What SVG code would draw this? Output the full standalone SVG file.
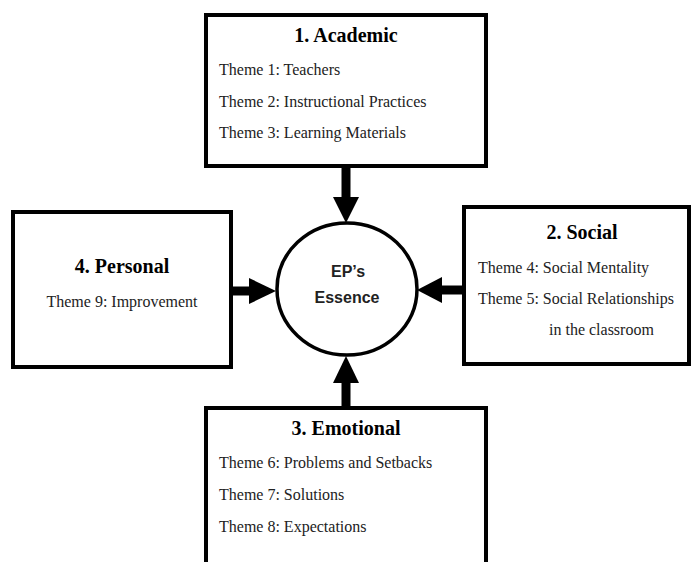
<svg xmlns="http://www.w3.org/2000/svg" width="693" height="562" viewBox="0 0 693 562">
<style>
.box{fill:#fff;stroke:#000;stroke-width:4}
.title{font-family:"Liberation Serif","Times New Roman",serif;font-weight:bold;font-size:20px;fill:#000;text-anchor:middle}
.item{font-family:"Liberation Serif","Times New Roman",serif;font-size:16px;fill:#222}
.core{font-family:"Liberation Sans",Arial,sans-serif;font-weight:bold;font-size:16px;fill:#222;text-anchor:middle}
.shaft{stroke:#000;stroke-width:9;fill:none}
.head{fill:#000}
</style>
<rect width="693" height="562" fill="#fff"/>
<g id="connectors">
  <line class="shaft" x1="346" y1="166" x2="346" y2="199"/>
  <polygon class="head" points="333,197 359,197 346,223"/>
  <line class="shaft" x1="231" y1="291" x2="251" y2="291"/>
  <polygon class="head" points="249,278 249,304 276,291"/>
  <line class="shaft" x1="464" y1="290" x2="440" y2="290"/>
  <polygon class="head" points="442,277 442,303 417,290"/>
  <line class="shaft" x1="346" y1="408" x2="346" y2="381"/>
  <polygon class="head" points="333,383 359,383 346,356"/>
</g>
<g id="academic">
  <rect class="box" x="206" y="15" width="280" height="151"/>
  <text class="title" x="346" y="42">1. Academic</text>
  <text class="item" x="219" y="75">Theme 1: Teachers</text>
  <text class="item" x="219" y="107">Theme 2: Instructional Practices</text>
  <text class="item" x="219" y="138">Theme 3: Learning Materials</text>
</g>
<g id="personal">
  <rect class="box" x="13" y="212" width="218" height="155"/>
  <text class="title" x="122" y="273">4. Personal</text>
  <text class="item" x="122" y="307" text-anchor="middle">Theme 9: Improvement</text>
</g>
<g id="social">
  <rect class="box" x="464" y="207" width="225" height="157"/>
  <text class="title" x="582" y="239">2. Social</text>
  <text class="item" x="478" y="273">Theme 4: Social Mentality</text>
  <text class="item" x="478" y="304">Theme 5: Social Relationships</text>
  <text class="item" x="549" y="335">in the classroom</text>
</g>
<g id="emotional">
  <rect class="box" x="206" y="408" width="280" height="170"/>
  <text class="title" x="346" y="435">3. Emotional</text>
  <text class="item" x="219" y="468">Theme 6: Problems and Setbacks</text>
  <text class="item" x="219" y="500">Theme 7: Solutions</text>
  <text class="item" x="219" y="532">Theme 8: Expectations</text>
</g>
<g id="essence">
  <ellipse cx="347" cy="289" rx="70" ry="66" fill="#fff" stroke="#000" stroke-width="3.5"/>
  <text class="core" x="348" y="277">EP’s</text>
  <text class="core" x="347" y="303">Essence</text>
</g>
</svg>
